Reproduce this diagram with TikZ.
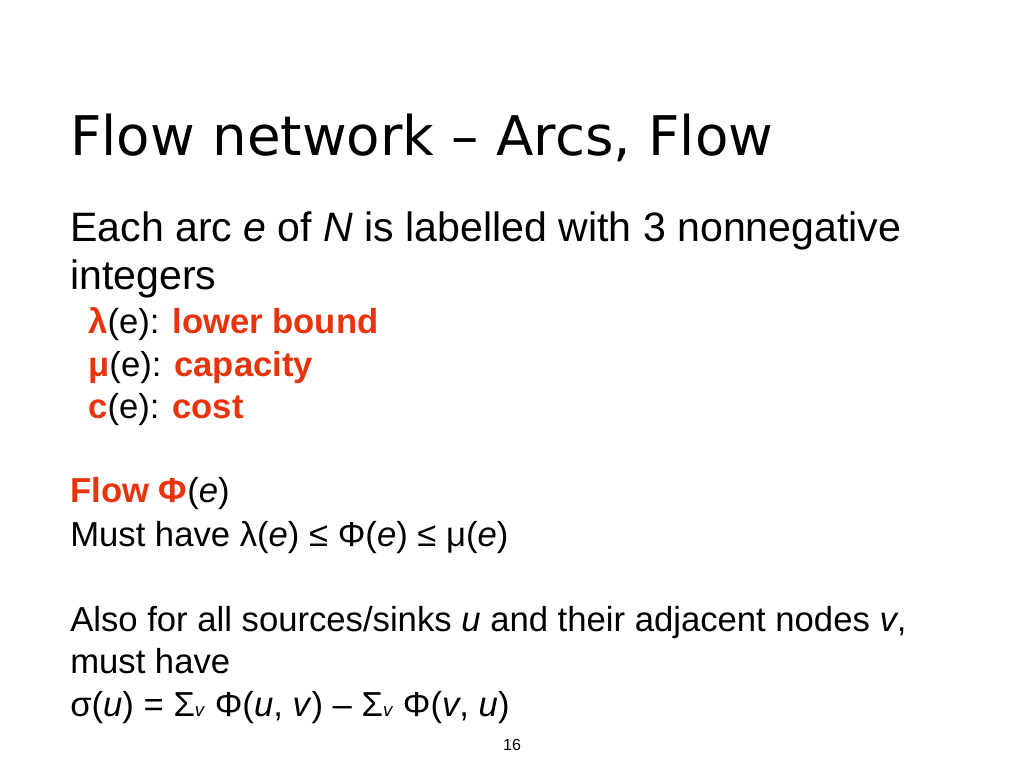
\documentclass[tikz,border=0pt]{standalone}
\usepackage{fontspec}
\setmainfont{Liberation Sans}
\newfontfamily\titlefont{DejaVu Sans}
\definecolor{slred}{RGB}{232,52,12}
\begin{document}
\begin{tikzpicture}[x=0.75pt,y=-0.75pt,
  txt/.style={anchor=base west,inner sep=0pt,font=\fontsize{30.8}{36}\selectfont},
  sub/.style={anchor=base west,inner sep=0pt,font=\fontsize{26}{30}\selectfont}]
\useasboundingbox[fill=white] (0,0) rectangle (1024,768);
\node[anchor=base west,inner sep=0pt,font=\titlefont\fontsize{41}{46}\selectfont] (title) at (70,155) {Flow network – Arcs, Flow};
\node[txt] (l1) at (70,241) {Each arc \textit{e} of \textit{N} is labelled with 3 nonnegative};
\node[txt] (l2) at (70,289) {integers};
\node[sub] (s1) at (88,333) {\textcolor{slred}{\textbf{λ}}(e): \textcolor{slred}{\textbf{lower bound}}};
\node[sub] (s2) at (88,376) {\textcolor{slred}{\textbf{μ}}(e): \textcolor{slred}{\textbf{capacity}}};
\node[sub] (s3) at (88,418) {\textcolor{slred}{\textbf{c}}(e): \textcolor{slred}{\textbf{cost}}};
\node[sub] (f1) at (70,502) {\textcolor{slred}{\textbf{Flow Φ}}(\textit{e})};
\node[sub] (f2) at (70,546) {Must have λ(\textit{e}) ≤ Φ(\textit{e}) ≤ μ(\textit{e})};
\node[sub] (a1) at (70,631) {Also for all sources/sinks \textit{u} and their adjacent nodes \textit{v},};
\node[sub] (a2) at (70,673) {must have};
\node[sub] (a3) at (70,716) {σ(\textit{u}) = Σ{\fontsize{14}{16}\selectfont\textit{v}} Φ(\textit{u}, \textit{v}) – Σ{\fontsize{14}{16}\selectfont\textit{v}} Φ(\textit{v}, \textit{u})};
\node[anchor=base,inner sep=0pt,font=\fontsize{12}{14}\selectfont] (pg) at (512,750) {16};
\end{tikzpicture}
\end{document}
